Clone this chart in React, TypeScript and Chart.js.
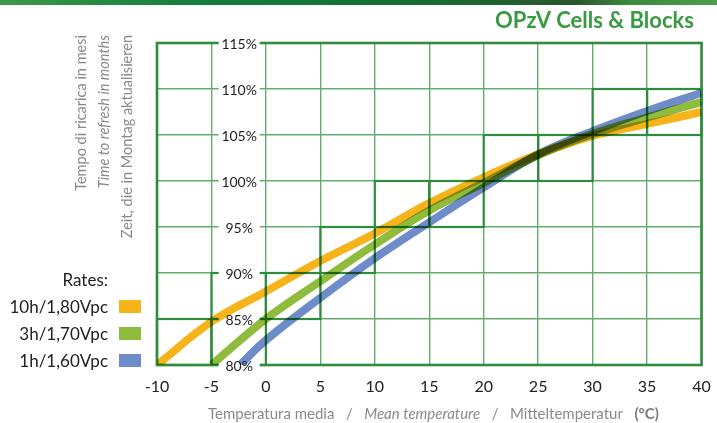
import React, { useEffect, useRef } from "react";
import { Chart, registerables } from "chart.js";

Chart.register(...registerables);

// ---------- data ----------
const temps10h = [-10, -5, 0, 5, 10, 15, 20, 25, 30, 35, 40];
const rate10h = [80, 84.7, 88.0, 91.3, 94.3, 97.6, 100.4, 102.9, 104.9, 106.2, 107.5];
const temps3h = [-5, 0, 5, 10, 15, 20, 25, 30, 35, 40];
const rate3h = [80, 85.0, 89.1, 93.1, 96.8, 99.8, 102.8, 105.1, 106.9, 108.6];
const temps1h = [-2.3, 0, 5, 10, 15, 20, 25, 30, 35, 40];
const rate1h = [80.1, 82.7, 87.3, 91.6, 95.5, 99.3, 102.9, 105.4, 107.6, 109.6];

const seriesLabels = ["10h/1,80Vpc", "3h/1,70Vpc", "1h/1,60Vpc"];
const seriesColors = ["#f6b41a", "#8fbc3c", "#6e8cc9"];

const xTickLabels = ["-10", "-5", "0", "5", "10", "15", "20", "25", "30", "35", "40"];
const yTickLabels = ["80%", "85%", "90%", "95%", "100%", "105%", "110%", "115%"];

// lower-left corners (data units) of the highlighted grid cells
const cellX = [-10, -5, -5, 0, 5, 10, 15, 20, 25, 30, 35];
const cellY = [80, 80, 85, 85, 90, 95, 95, 100, 100, 105, 105];

const yTitleLines = [
  "Tempo di ricarica in mesi",
  "Time to refresh in months",
  "Zeit, die in Montag aktualisieren",
];

const FONT = "Lato, 'Open Sans', sans-serif";
const GRID = "#63ae6d";
const DARK = "#2f8c3d";

function pts(xs: number[], ys: number[]) {
  return xs.map((x, i) => ({ x, y: ys[i] }));
}

const decor = {
  id: "decor",
  beforeDraw(chart: any) {
    const ctx = chart.ctx;
    ctx.save();
    ctx.fillStyle = "#ffffff";
    ctx.fillRect(0, 0, chart.width, chart.height);
    const g = ctx.createLinearGradient(0, 0, chart.width, 0);
    g.addColorStop(0, "#3d9847");
    g.addColorStop(0.25, "#15803c");
    g.addColorStop(0.5, "#137236");
    g.addColorStop(0.7, "#1f6232");
    g.addColorStop(0.8, "#2c552d");
    g.addColorStop(0.88, "#3a8c3e");
    g.addColorStop(1, "#4d9e4b");
    ctx.fillStyle = g;
    ctx.fillRect(0, 0, chart.width, 5);
    ctx.restore();
  },
  beforeDatasetsDraw(chart: any) {
    const { ctx, chartArea: a, scales } = chart;
    const xs = scales.x;
    const ys = scales.y;
    ctx.save();
    // highlighted cells
    ctx.strokeStyle = DARK;
    ctx.lineWidth = 2.2;
    for (let i = 0; i < cellX.length; i++) {
      const x1 = xs.getPixelForValue(cellX[i]);
      const x2 = xs.getPixelForValue(cellX[i] + 5);
      const y1 = ys.getPixelForValue(cellY[i] + 5);
      const y2 = ys.getPixelForValue(cellY[i]);
      ctx.strokeRect(x1, y1, x2 - x1, y2 - y1);
    }
    // outer border
    ctx.lineWidth = 2.6;
    ctx.strokeRect(a.left, a.top, a.right - a.left, a.bottom - a.top);
    // y tick labels inside the plot with white background
    const cx = xs.getPixelForValue(-2.5) + 0.5;
    ctx.font = `14px ${FONT}`;
    ctx.textAlign = "center";
    ctx.textBaseline = "middle";
    yTickLabels.forEach((lab, i) => {
      const py = ys.getPixelForValue(80 + i * 5);
      ctx.fillStyle = "#ffffff";
      ctx.fillRect(cx - 20.5, py - 6, 41, 12);
      ctx.fillStyle = "#222222";
      ctx.fillText(lab, cx, py + 1);
    });
    ctx.restore();
  },
  beforeDatasetDraw(chart: any) {
    chart.ctx.save();
    chart.ctx.globalCompositeOperation = "multiply";
  },
  afterDatasetDraw(chart: any) {
    chart.ctx.restore();
  },
  afterDraw(chart: any) {
    const { ctx, scales } = chart;
    const xs = scales.x;
    ctx.save();
    // title
    ctx.font = `bold 22px ${FONT}`;
    ctx.fillStyle = "#3a9a44";
    ctx.textAlign = "right";
    ctx.textBaseline = "alphabetic";
    ctx.fillText("OPzV Cells & Blocks", 694, 28);

    // x tick labels
    ctx.font = `16px ${FONT}`;
    ctx.fillStyle = "#222222";
    ctx.textAlign = "center";
    xTickLabels.forEach((lab, i) => {
      ctx.fillText(lab, xs.getPixelForValue(-10 + i * 5), 392);
    });

    // x title with mixed styles
    const parts: [string, string, string][] = [
      ["Temperatura media", `15px ${FONT}`, "#8a8a8a"],
      ["   /   ", `15px ${FONT}`, "#8a8a8a"],
      ["Mean temperature", `italic 15px ${FONT}`, "#8a8a8a"],
      ["   /   ", `15px ${FONT}`, "#8a8a8a"],
      ["Mitteltemperatur", `15px ${FONT}`, "#8a8a8a"],
      ["   ", `15px ${FONT}`, "#8a8a8a"],
      ["(°C)", `bold 15px ${FONT}`, "#7a7a7a"],
    ];
    ctx.textAlign = "left";
    let px = 208;
    parts.forEach(([t, f, c]) => {
      ctx.font = f;
      ctx.fillStyle = c;
      ctx.fillText(t, px, 419);
      px += ctx.measureText(t).width;
    });

    // y title (rotated)
    ctx.fillStyle = "#8a8a8a";
    const centers = [81.5, 104.5, 127];
    yTitleLines.forEach((t, i) => {
      ctx.save();
      ctx.translate(centers[i], 35);
      ctx.rotate(-Math.PI / 2);
      ctx.font = i === 1 ? `italic 14.5px ${FONT}` : `14.5px ${FONT}`;
      ctx.textAlign = "right";
      ctx.textBaseline = "middle";
      ctx.fillText(t, 0, 0);
      ctx.restore();
    });

    // legend
    ctx.font = `17px ${FONT}`;
    ctx.fillStyle = "#222222";
    ctx.textAlign = "right";
    ctx.textBaseline = "alphabetic";
    ctx.fillText("Rates:", 108, 286);
    const baselines = [313, 340, 367];
    seriesLabels.forEach((lab, i) => {
      ctx.fillStyle = "#222222";
      ctx.fillText(lab, 108, baselines[i]);
      ctx.fillStyle = seriesColors[i];
      ctx.fillRect(119, baselines[i] - 13, 22, 13);
    });
    ctx.restore();
  },
};

export default function App() {
  const ref = useRef<HTMLCanvasElement | null>(null);
  useEffect(() => {
    document.body.style.margin = "0";
    if (!ref.current) return;
    const common = {
      fill: false,
      borderWidth: 8,
      pointRadius: 0,
      tension: 0.4,
      borderCapStyle: "butt" as const,
    };
    const chart = new Chart(ref.current, {
      type: "line",
      data: {
        datasets: [
          { ...common, label: seriesLabels[0], data: pts(temps10h, rate10h), borderColor: seriesColors[0] },
          { ...common, label: seriesLabels[1], data: pts(temps3h, rate3h), borderColor: seriesColors[1] },
          { ...common, label: seriesLabels[2], data: pts(temps1h, rate1h), borderColor: seriesColors[2] },
        ],
      },
      options: {
        animation: false,
        responsive: false,
        devicePixelRatio: 1,
        layout: { padding: { left: 157, top: 43, right: 15.5, bottom: 58 } },
        plugins: { legend: { display: false }, tooltip: { enabled: false }, title: { display: false } },
        scales: {
          x: {
            type: "linear",
            min: -10,
            max: 40,
            ticks: { display: false, stepSize: 5 },
            grid: { color: GRID, lineWidth: 1.4, drawTicks: false },
            border: { display: false },
          },
          y: {
            type: "linear",
            min: 80,
            max: 115,
            ticks: { display: false, stepSize: 5 },
            grid: { color: GRID, lineWidth: 1.4, drawTicks: false },
            border: { display: false },
          },
        },
      },
      plugins: [decor],
    });
    return () => chart.destroy();
  }, []);
  return (
    <div style={{ position: "fixed", left: 0, top: 0, width: 717, height: 423 }}>
      <canvas ref={ref} width={717} height={423} style={{ width: 717, height: 423, display: "block" }} />
    </div>
  );
}
